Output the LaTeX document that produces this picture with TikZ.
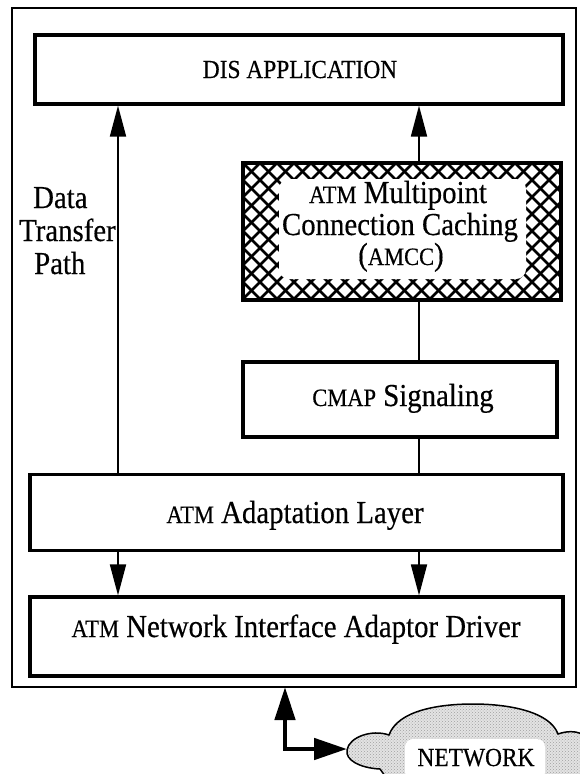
\documentclass[tikz,border=0pt]{standalone}
\usepackage{fontspec}
\setmainfont{Liberation Serif}[FakeStretch=0.9,FakeBold=0.4]
\usetikzlibrary{arrows.meta,patterns}
% reduced capitals for acronyms inside the 32pt text
\newcommand\acr[1]{{\fontsize{25}{25}\selectfont #1}}
\begin{document}
\begin{tikzpicture}[x=1pt,y=-1pt,
  box/.style={draw, line width=3.2pt, inner sep=0pt},
  txt/.style={inner sep=0pt, anchor=base, font=\fontsize{32}{32}\selectfont},
  arr/.style={line width=1.8pt, -{Triangle[length=31pt,width=16pt]}},
  link/.style={line width=1.8pt},
  netarr/.style={line width=4.8pt, {Triangle[length=33pt,width=20pt]}-{Triangle[length=33pt,width=21pt]}},
  hatch/.style={line width=2.8pt}
]
\useasboundingbox (0,0) rectangle (579,774);

% outer frame
\draw[line width=1.6pt] (12,8) rectangle (576,687);
\coordinate (framebot) at (285,687);

% column positions of the vertical paths
\coordinate (lx) at (118,0);
\coordinate (rx) at (419,0);

% DIS application
\node[box, minimum width=528pt, minimum height=69pt] (dis) at (299,69.5) {};
\node[txt] (distext) at (300,78) {\fontsize{26}{26}\selectfont DIS APPLICATION};

% AMCC box with cross hatching
\begin{scope}
  \clip (243,163) rectangle (561,300);
  \foreach \c in {-153,-136,...,475} {
    \draw[hatch] (243+\c,163) -- ++(150,150);
    \draw[hatch] (243+\c,163) -- ++(-150,150);
  }
\end{scope}
\node[box, minimum width=318pt, minimum height=137pt] (amcc) at (402,231.5) {};
\fill[white, rounded corners=10pt] (279,179) rectangle (526,279);
\node[txt] (amcc1) at (398,203) {\acr{ATM} Multipoint};
\node[txt] (amcc2) at (400,235) {Connection Caching};
\node[txt] (amcc3) at (401,265) {(\acr{AMCC})};

% CMAP signaling
\node[box, minimum width=314pt, minimum height=75pt] (cmap) at (400,399.5) {};
\node[txt] (cmaptext) at (403,406) {\acr{CMAP} Signaling};

% ATM adaptation layer
\node[box, minimum width=533pt, minimum height=76pt] (adapt) at (296.5,512.5) {};
\node[txt] (adapttext) at (295,523) {\acr{ATM} Adaptation Layer};

% ATM network interface adaptor driver
\node[box, minimum width=533pt, minimum height=79pt] (drv) at (296.5,636.5) {};
\node[txt] (drvtext) at (296,637) {\acr{ATM} Network Interface Adaptor Driver};

% data transfer path label
\node[txt, anchor=base west] (dtp1) at (33,208) {Data};
\node[txt, anchor=base west] (dtp2) at (19,241) {Transfer};
\node[txt, anchor=base west] (dtp3) at (34,274) {Path};

% connectors
\draw[arr] (adapt.north -| lx) -- (dis.south -| lx);
\draw[arr] (amcc.north -| rx) -- (dis.south -| rx);
\draw[link] (amcc.south -| rx) -- (cmap.north -| rx);
\draw[link] (cmap.south -| rx) -- (adapt.north -| rx);
\draw[arr] (adapt.south -| lx) -- (drv.north -| lx);
\draw[arr] (adapt.south -| rx) -- (drv.north -| rx);

% network cloud
\def\cloudpath{(347,750) .. controls (349,737) and (372,729) .. (389,735)
  .. controls (398,710) and (440,704) .. (473,704)
  .. controls (510,704) and (550,712) .. (558,734)
  .. controls (575,728) and (590,734) .. (596,748)
  -- (596,790) -- (392,790)
  .. controls (388,780) .. (380,769)
  .. controls (360,768) and (345,760) .. (347,750) -- cycle}
\fill[gray!22] \cloudpath;
\fill[pattern=crosshatch dots, pattern color=gray!75] \cloudpath;
\draw[line width=1.5pt] \cloudpath;
\fill[white, rounded corners=8pt] (405,739) rectangle (545,780);
\node[txt] (net) at (476,766) {\fontsize{26}{26}\selectfont NETWORK};
\coordinate (cloudw) at (347,749);

\draw[netarr] (framebot) |- (cloudw);
\end{tikzpicture}
\end{document}
